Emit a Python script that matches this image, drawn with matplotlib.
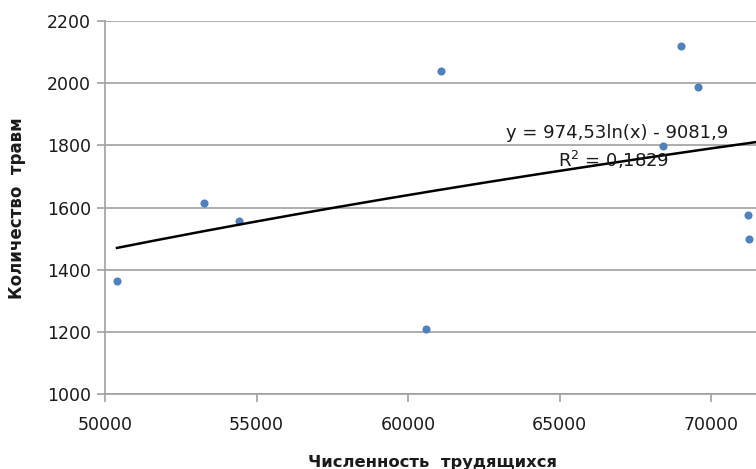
import numpy as np
import matplotlib
matplotlib.use("Agg")
import matplotlib.pyplot as plt

# Workforce size vs. number of injuries
workers = [50395, 53263, 54417, 61074, 60580, 68985, 69545, 68391, 71193, 71226]
injuries = [1365, 1616, 1555, 2039, 1210, 2120, 1987, 1797, 1577, 1500]

# Logarithmic trend coefficients
coef_a = 974.53
coef_b = -9081.9
r_squared = 0.1829

x_ticks = [50000, 55000, 60000, 65000, 70000]
y_ticks = [1000, 1200, 1400, 1600, 1800, 2000, 2200]

plt.rcParams['font.family'] = ['DejaVu Sans']

fig = plt.figure(figsize=(7.56, 4.69), dpi=100)
ax = fig.add_axes([105 / 756, 1 - 394 / 469, 667 / 756, (394 - 21) / 469])

grid_col = '#a0a0a0'
ax.set_xlim(50000, 72000)
ax.set_ylim(1000, 2200)
ax.set_xticks(x_ticks)
ax.set_yticks(y_ticks)
ax.yaxis.grid(True, color=grid_col, linewidth=1.2)
ax.set_axisbelow(True)
for s in ['top', 'right']:
    ax.spines[s].set_visible(False)
for s in ['left', 'bottom']:
    ax.spines[s].set_color(grid_col)
    ax.spines[s].set_linewidth(1.2)
ax.tick_params(axis='both', colors=grid_col, length=6, width=1.2,
               labelcolor='#1a1a1a', labelsize=12.5)
ax.tick_params(axis='x', pad=10)
ax.tick_params(axis='y', pad=4)

ax.scatter(workers, injuries, s=34, color='#4f81bd', zorder=3, linewidths=0)

xs = np.linspace(min(workers), max(workers) + 500, 200)
ax.plot(xs, coef_a * np.log(xs) + coef_b, color='black', linewidth=1.8, zorder=4)

eq_label = f'y = {coef_a:.2f}ln(x) - {abs(coef_b):.1f}'.replace('.', ',')
r2_label = f'R$^2$ = {r_squared:.4f}'.replace('.', ',')
ax.text(0.934, 0.686, eq_label, transform=ax.transAxes,
        ha='right', va='baseline', fontsize=13, color='#1a1a1a', zorder=5)
ax.text(0.846, 0.609, r2_label, transform=ax.transAxes,
        ha='right', va='baseline', fontsize=13, color='#1a1a1a', zorder=5)

fig.text(432 / 756, 1 - 462 / 469, 'Численность  трудящихся', ha='center', va='center',
         fontsize=11.8, fontweight='bold', color='#1a1a1a')
fig.text(17 / 756, 1 - 208 / 469, 'Количество  травм', ha='center', va='center',
         rotation=90, fontsize=12, fontweight='bold', color='#1a1a1a')

fig.savefig('out.png', dpi=100)
